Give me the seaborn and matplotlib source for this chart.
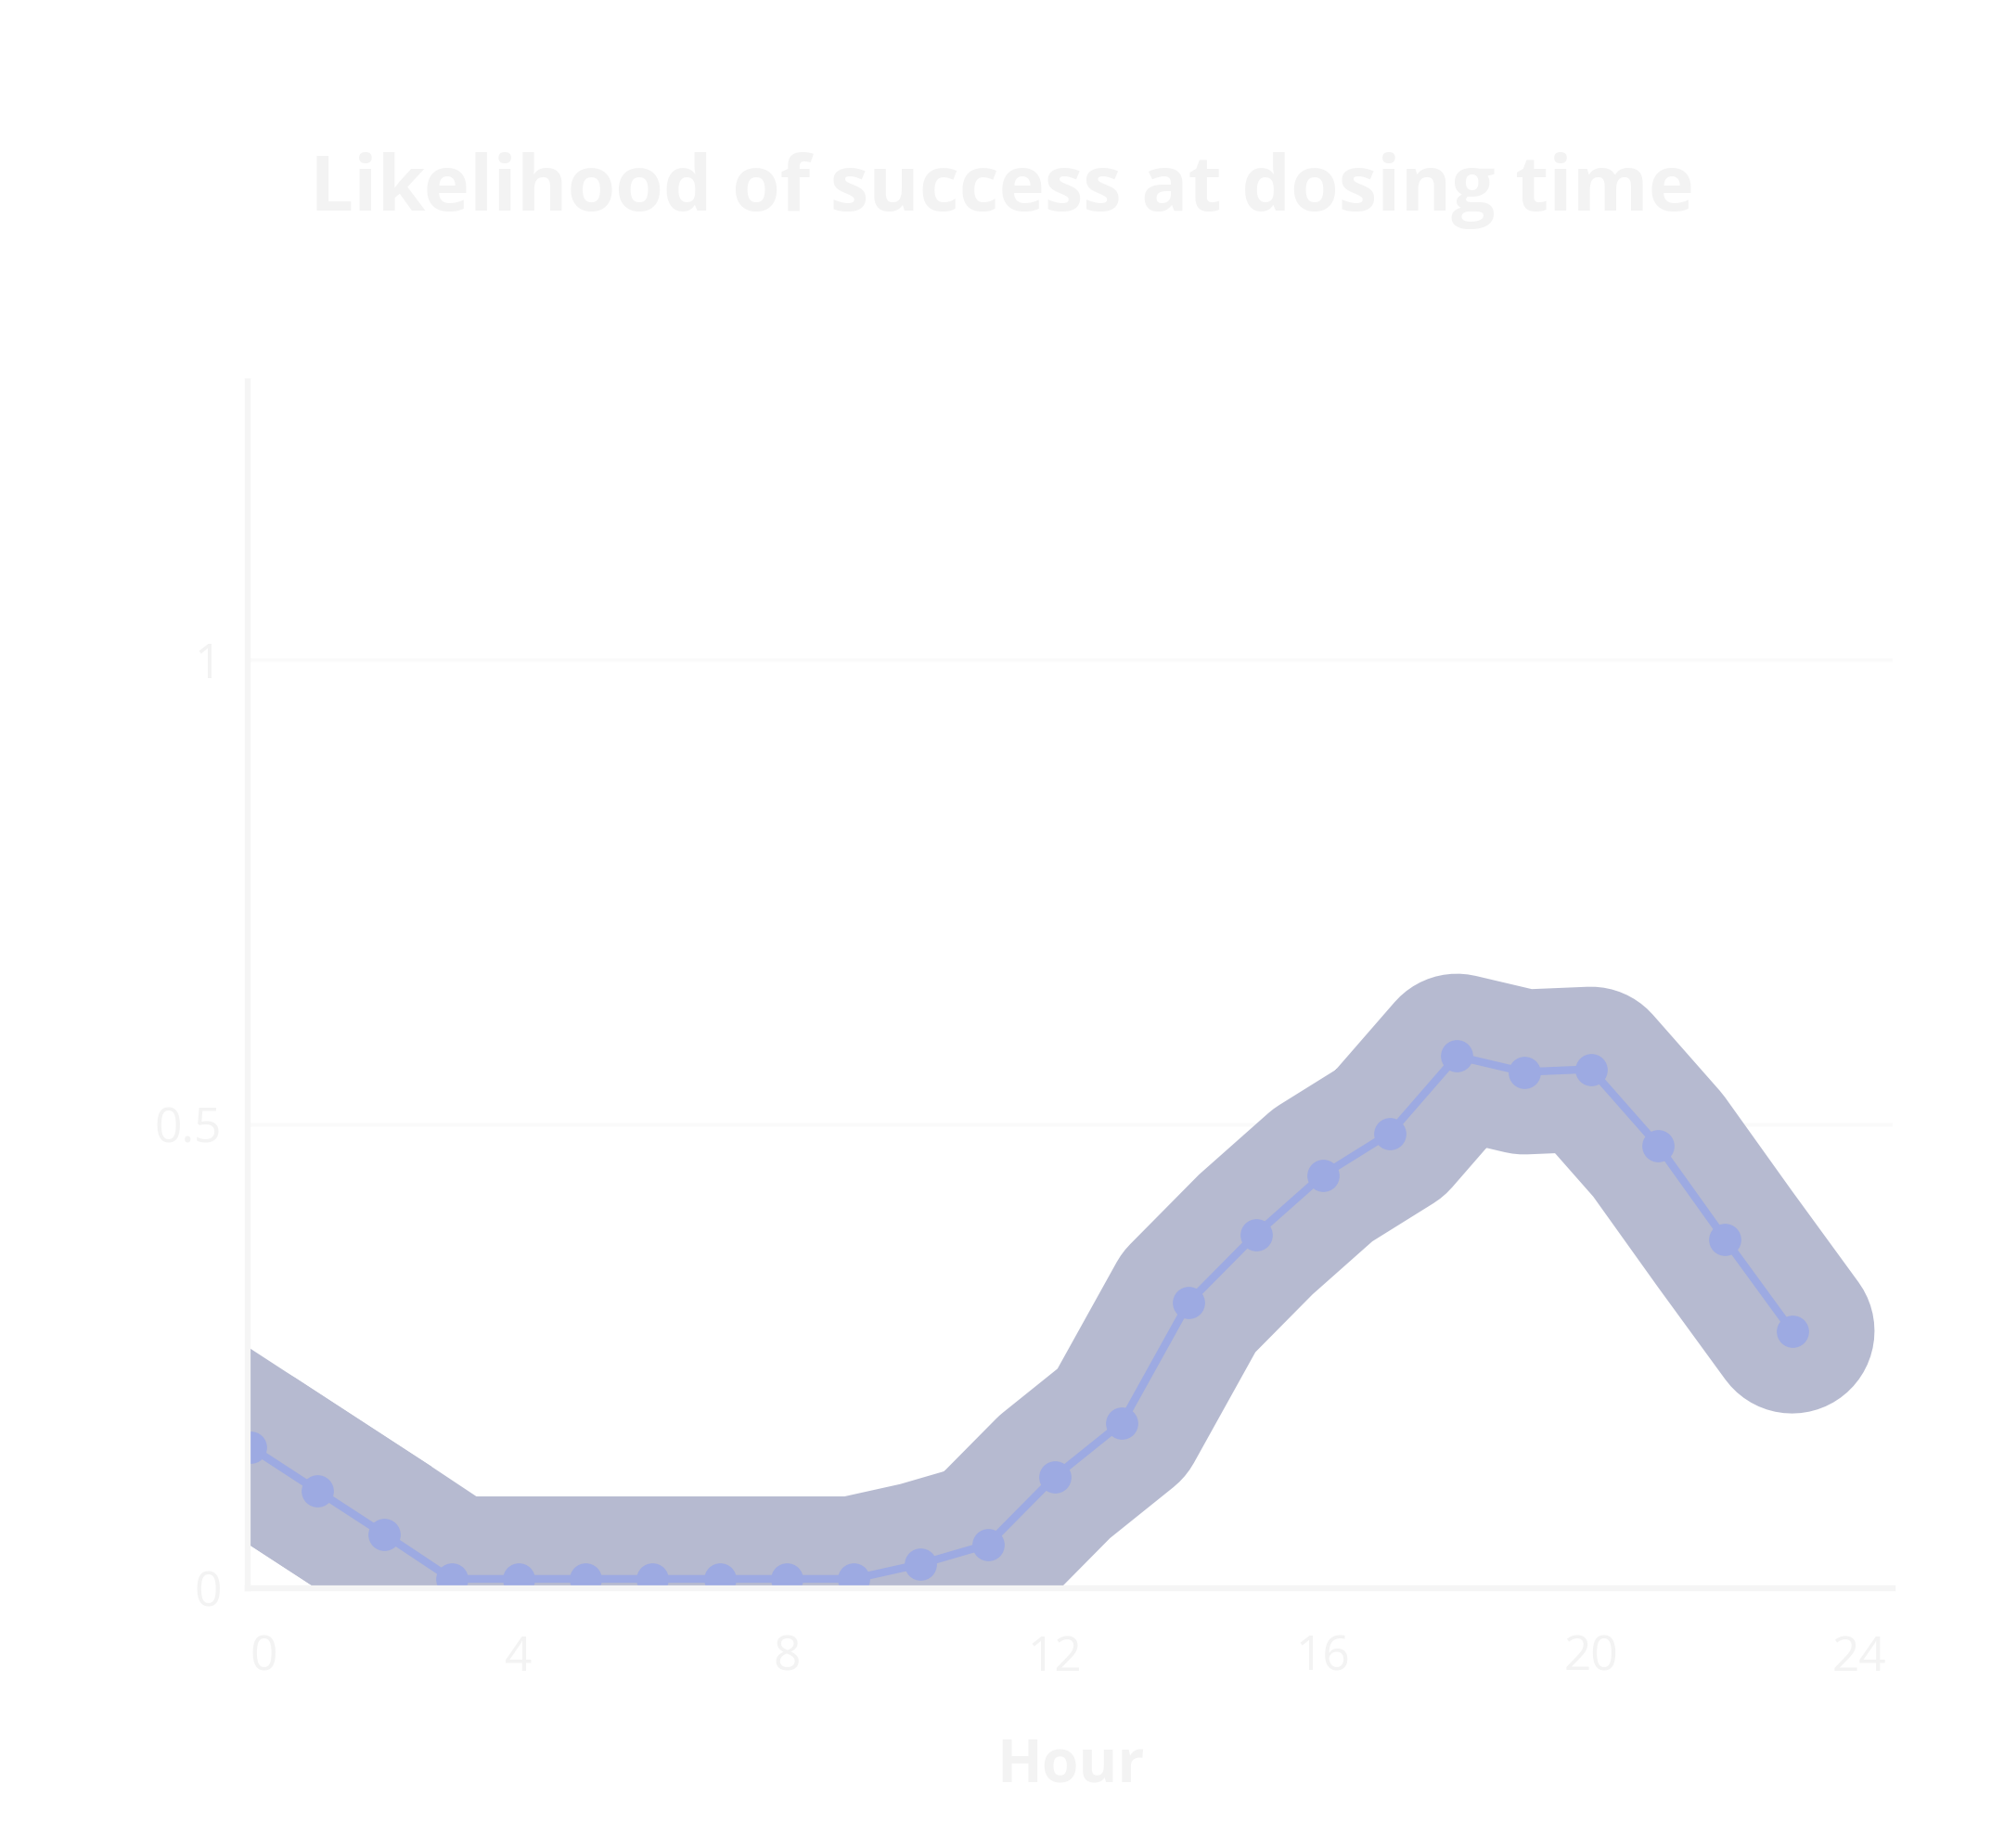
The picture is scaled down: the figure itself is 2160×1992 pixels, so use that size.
import numpy as np
import pandas as pd
import matplotlib
matplotlib.use("Agg")
import matplotlib.pyplot as plt
import seaborn as sns

# values
hours = list(range(24))
likelihood = [0.152, 0.105, 0.058, 0.010, 0.010, 0.010, 0.010, 0.010, 0.010,
              0.010, 0.026, 0.047, 0.120, 0.178, 0.308, 0.381, 0.445, 0.490,
              0.573, 0.556, 0.559, 0.477, 0.376, 0.277]
x_ticks = [0, 4, 8, 12, 16, 20, 24]
y_ticks = [0, 0.5, 1]
y_tick_labels = ["0", "0.5", "1"]

title = "Likelihood of success at dosing time"
x_label = "Hour"

band_color = "#b6bad0"
line_color = "#9daae2"
text_color = "#f3f3f3"

df = pd.DataFrame({"hour": hours, "likelihood": likelihood})

sns.set_theme(style="white")
plt.rcParams["font.family"] = ["Open Sans", "DejaVu Sans"]

fig = plt.figure(figsize=(21.6, 19.92), dpi=100, facecolor="white")
ax = fig.add_axes([0.1236, 0.1406, 0.8208, 0.6531])

# thick halo behind the series (square start so it runs straight off the left edge)
sns.lineplot(data=df, x="hour", y="likelihood", ax=ax, color=band_color,
             linewidth=128, solid_capstyle="round", solid_joinstyle="round",
             zorder=2)
sns.lineplot(data=df.iloc[:2], x="hour", y="likelihood", ax=ax,
             color=band_color, linewidth=128, solid_capstyle="projecting",
             zorder=2)
# main series with markers
sns.lineplot(data=df, x="hour", y="likelihood", ax=ax, color=line_color,
             linewidth=6, marker="o", markersize=25, markeredgewidth=0,
             zorder=3)

ax.set_xlim(-0.04, 24.5)
ax.set_ylim(0, 1.3)
ax.set_xticks(x_ticks)
ax.set_xticklabels([str(t) for t in x_ticks])
ax.set_yticks(y_ticks)
ax.set_yticklabels(y_tick_labels)
ax.tick_params(axis="both", length=0, labelsize=37, labelcolor=text_color)
ax.tick_params(axis="x", pad=36)
ax.tick_params(axis="y", pad=20)
ax.get_xticklabels()[0].set_horizontalalignment("left")

ax.yaxis.grid(True, color="#fafafa", linewidth=2.5)
ax.set_axisbelow(True)
for side in ["top", "right"]:
    ax.spines[side].set_visible(False)
for side in ["left", "bottom"]:
    ax.spines[side].set_color("#f5f5f5")
    ax.spines[side].set_linewidth(4.5)
    ax.spines[side].set_zorder(4)

ax.set_xlabel(x_label, fontsize=46, fontweight="bold", color=text_color,
              labelpad=42)
ax.set_ylabel("")
fig.text(0.5, 0.897, title, ha="center", va="center", fontsize=60,
         fontweight="bold", color=text_color)

fig.savefig("out.png", dpi=100, facecolor="white")
